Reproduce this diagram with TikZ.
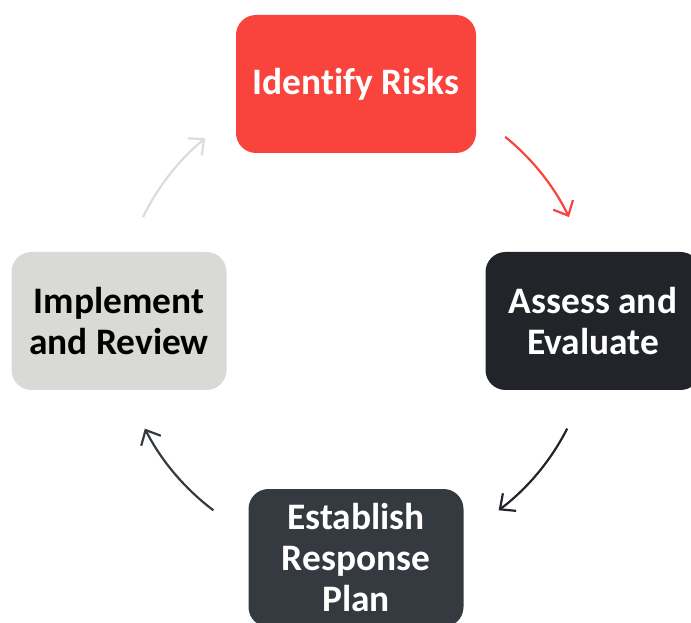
\documentclass[tikz,border=0pt]{standalone}
\usepackage{fontspec}
\setmainfont[Ligatures=NoCommon]{Carlito}
\usepackage{tikz}
\usetikzlibrary{calc}
\usetikzlibrary{arrows.meta}

\definecolor{riskred}{HTML}{F9433D}
\definecolor{assessdark}{HTML}{212529}
\definecolor{planslate}{HTML}{343A40}
\definecolor{reviewgray}{HTML}{D9D9D6}
\definecolor{arrowgray}{HTML}{DCDCD9}

\tikzset{
	stage/.style={rounded corners=20pt, minimum width=215pt, minimum height=138pt, inner sep=0pt,
		align=center, font=\fontsize{37.4}{41}\selectfont\bfseries},
	cyclearrow/.style={line width=2.2pt, -{Straight Barb[length=12pt,width=22pt]}}
}

\begin{document}
\begin{tikzpicture}[x=1pt,y=1pt]
	\def\R{237pt}

	\clip (0,0) rectangle (691,622);

	\coordinate (hub) at (356,301);

	\node[stage, fill=riskred, text=white, minimum width=240pt] (risk) at ($(hub)+(90:\R)$) {Identify Risks};
	\node[stage, fill=assessdark, text=white] (assess) at ($(hub)+(0:\R)$) {Assess and\\Evaluate};
	\node[stage, fill=planslate, text=white] (plan) at ($(hub)+(-90:\R)$) {Establish\\Response\\Plan};
	\node[stage, fill=reviewgray, text=black] (review) at ($(hub)+(180:\R)$) {Implement\\and Review};

	% arcs round the hub
	\foreach \a/\b/\c in {51/26/riskred, -27/-53/assessdark, -127/-153/planslate, 154/129.5/arrowgray}
		\draw[cyclearrow, \c] (hub) ++(\a:\R) arc[start angle=\a, end angle=\b, radius=\R];

\end{tikzpicture}
\end{document}
